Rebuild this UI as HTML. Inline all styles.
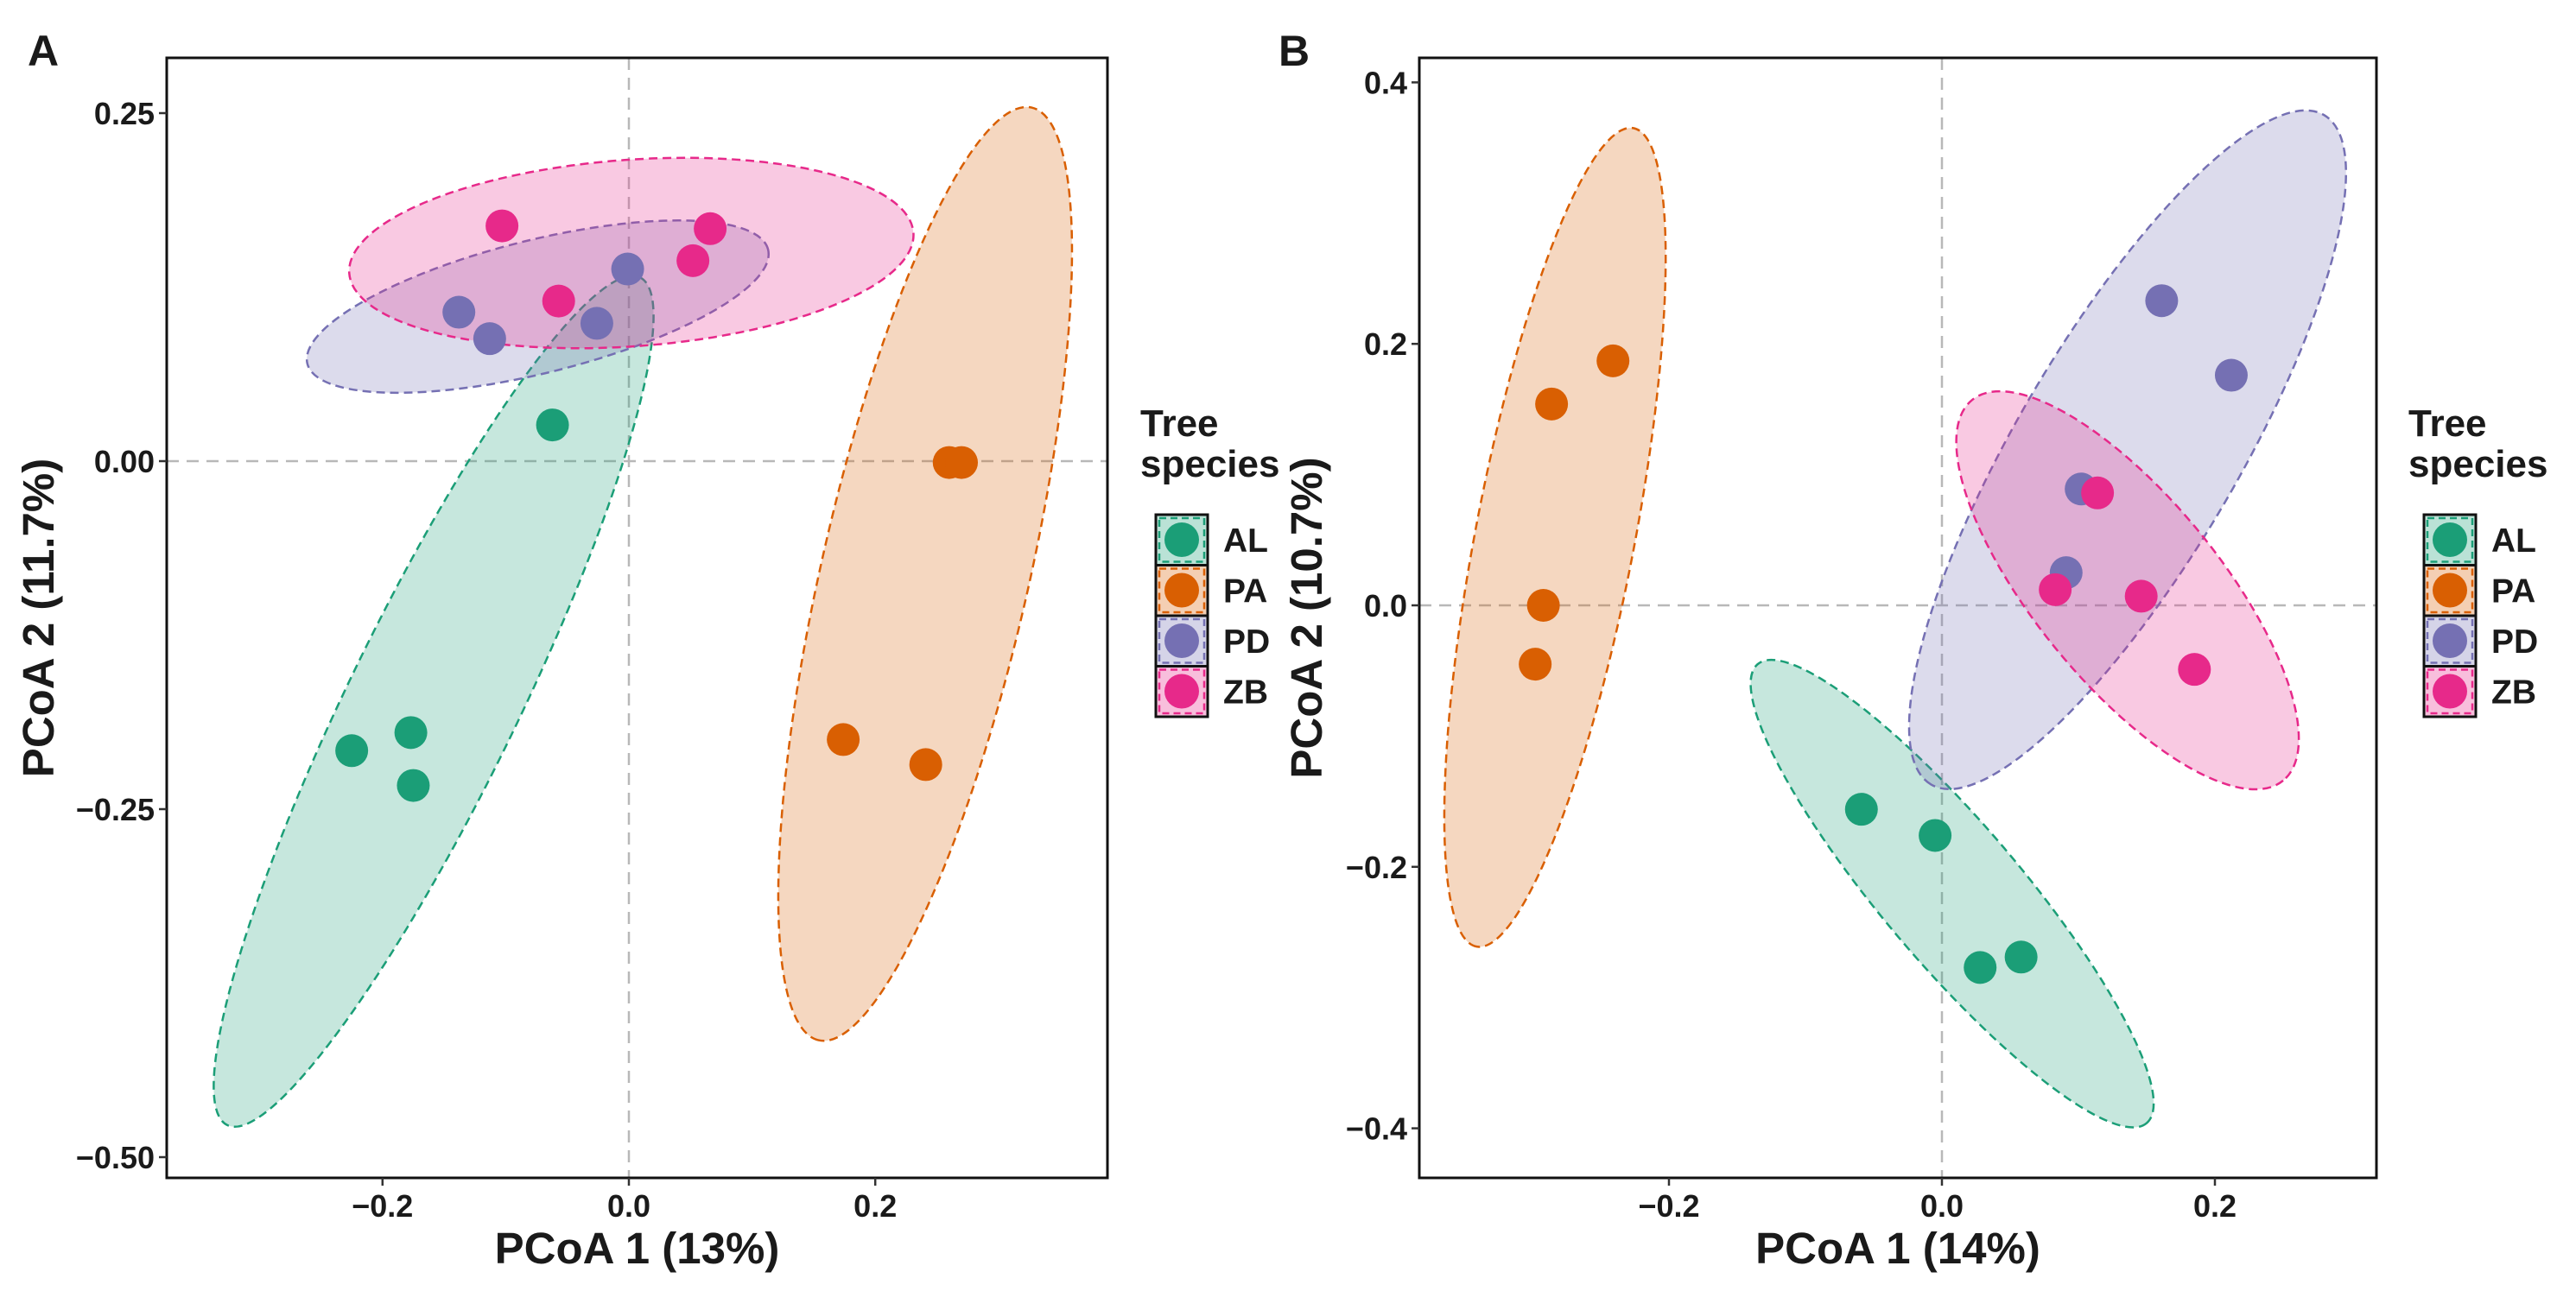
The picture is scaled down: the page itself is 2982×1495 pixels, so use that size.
<!DOCTYPE html>
<html><head><meta charset="utf-8"><style>
html,body{margin:0;padding:0;background:#fff}
svg{display:block}
text{font-family:"Liberation Sans",Arial,sans-serif;font-weight:bold;fill:#1a1a1a}
</style></head><body>
<svg id="chart" width="2982" height="1495" viewBox="0 0 2982 1495" xmlns="http://www.w3.org/2000/svg"></svg>
<script>
const groups = ["AL","PA","PD","ZB"];
const colors = ["#1b9e77","#d95f02","#7570b3","#e7298a"];
// Panel A data
const aTicksX = [-0.2, 0.0, 0.2];
const aTickLabelsX = ["\u22120.2","0.0","0.2"];
const aTicksY = [0.25, 0.0, -0.25, -0.5];
const aTickLabelsY = ["0.25","0.00","\u22120.25","\u22120.50"];
const aX = {AL:[-0.062,-0.225,-0.177,-0.175], PA:[0.26,0.27,0.174,0.241], PD:[-0.138,-0.113,-0.026,-0.001], ZB:[-0.103,0.066,0.052,-0.057]};
const aY = {AL:[0.026,-0.208,-0.195,-0.233], PA:[-0.001,-0.001,-0.2,-0.218], PD:[0.107,0.088,0.099,0.138], ZB:[0.169,0.167,0.144,0.115]};
const aEllTip1 = {AL:[-0.326,-0.477], PA:[0.327,0.254], PD:[-0.261,0.07], ZB:[-0.227,0.135]};
const aEllTip2 = {AL:[0.009,0.132], PA:[0.154,-0.416], PD:[0.113,0.152], ZB:[0.231,0.164]};
const aEllMinor = {AL:98, PA:120, PD:77, ZB:108};
// Panel B data
const bTicksX = [-0.2, 0.0, 0.2];
const bTickLabelsX = ["\u22120.2","0.0","0.2"];
const bTicksY = [0.4, 0.2, 0.0, -0.2, -0.4];
const bTickLabelsY = ["0.4","0.2","0.0","\u22120.2","\u22120.4"];
const bX = {AL:[-0.059,-0.005,0.028,0.058], PA:[-0.241,-0.286,-0.292,-0.298], PD:[0.161,0.212,0.102,0.091], ZB:[0.114,0.083,0.146,0.185]};
const bY = {AL:[-0.156,-0.176,-0.277,-0.269], PA:[0.187,0.154,0.0,-0.045], PD:[0.233,0.176,0.089,0.025], ZB:[0.086,0.012,0.007,-0.049]};
const bEllTip1 = {AL:[-0.135,-0.045], PA:[-0.226,0.365], PD:[0.28,0.375], ZB:[0.022,0.157]};
const bEllTip2 = {AL:[0.15,-0.396], PA:[-0.341,-0.261], PD:[-0.008,-0.137], ZB:[0.25,-0.134]};
const bEllMinor = {AL:80, PA:92, PD:128, ZB:107};

const NS="http://www.w3.org/2000/svg";
const svg=document.getElementById('chart');
function mk(tag,attrs,parent){const e=document.createElementNS(NS,tag);for(const k in attrs)e.setAttribute(k,attrs[k]);(parent||svg).appendChild(e);return e;}

function panel(p){
  const g=mk('g',{});
  
  
  const sx=v=>p.x0+v*p.kx, sy=v=>p.y0-v*p.ky;
  const zx=mk('line',{x1:sx(0),x2:sx(0),y1:p.top,y2:p.bottom,stroke:'#b8b8b8','stroke-width':2.5,'stroke-dasharray':'14 9'},g);
  
  
  const zy=mk('line',{x1:p.left,x2:p.right,y1:sy(0),y2:sy(0),stroke:'#b8b8b8','stroke-width':2.5,'stroke-dasharray':'14 9'},g);
  
  
  groups.forEach((gr,i)=>{
    const t1=p.t1[gr],t2=p.t2[gr];
    const x1=sx(t1[0]),y1=sy(t1[1]),x2=sx(t2[0]),y2=sy(t2[1]);
    const cx=(x1+x2)/2,cy=(y1+y2)/2,rx=Math.hypot(x2-x1,y2-y1)/2;
    const ang=Math.atan2(y2-y1,x2-x1)*180/Math.PI;
    const e=mk('ellipse',{cx:cx,cy:cy,rx:rx,ry:p.minor[gr],transform:`rotate(${ang} ${cx} ${cy})`,fill:colors[i],'fill-opacity':0.25,stroke:colors[i],'stroke-width':2.5,'stroke-dasharray':'10 6'},g);
    
    
  });
  groups.forEach((gr,i)=>{
    p.xs[gr].forEach((v,j)=>{
      const c=mk('circle',{cx:sx(v),cy:sy(p.ys[gr][j]),r:19,fill:colors[i]},g);
      
      
    });
  });
  const fr=mk('rect',{x:p.left,y:p.top,width:p.right-p.left,height:p.bottom-p.top,fill:'none',stroke:'#111','stroke-width':3},g);
  
  
  p.tx.forEach((v,j)=>{
    mk('line',{x1:sx(v),x2:sx(v),y1:p.bottom,y2:p.bottom+9,stroke:'#333','stroke-width':2.5},g);
    const t=mk('text',{x:sx(v),y:p.bottom+45,'text-anchor':'middle','font-size':36},g);
    t.textContent=p.txl[j];
    
    
  });
  p.ty.forEach((v,j)=>{
    mk('line',{x1:p.left-9,x2:p.left,y1:sy(v),y2:sy(v),stroke:'#333','stroke-width':2.5},g);
    const t=mk('text',{x:p.left-14,y:sy(v)+13,'text-anchor':'end','font-size':36},g);
    t.textContent=p.tyl[j];
    
    
  });
  const xt=mk('text',{x:(p.left+p.right)/2,y:1463,'text-anchor':'middle','font-size':51},g);
  xt.textContent=p.xtitle;
  
  
  const yc=(p.top+p.bottom)/2;
  const yt=mk('text',{x:p.ytx,y:yc,'text-anchor':'middle','font-size':51,transform:`rotate(-90 ${p.ytx} ${yc})`},g);
  yt.textContent=p.ytitle;
  
  
  const lt=mk('text',{x:p.letterX,y:76,'font-size':50},g);
  lt.textContent=p.id;
  
  
  const lg=mk('g',{},g);
  
  
  const t1=mk('text',{x:p.legX-18,y:505,'font-size':44},lg);t1.textContent='Tree';
  
  
  const t2=mk('text',{x:p.legX-18,y:552,'font-size':44},lg);t2.textContent='species';
  
  
  groups.forEach((gr,i)=>{
    const y=596+i*58.5;
    const e=mk('g',{},lg);
    
    
    mk('rect',{x:p.legX,y:y,width:60,height:58.5,fill:colors[i],'fill-opacity':0.3,stroke:'#111','stroke-width':3},e);
    mk('rect',{x:p.legX+4,y:y+4,width:52,height:50.5,fill:'none',stroke:colors[i],'stroke-width':2.5,'stroke-dasharray':'8 5'},e);
    mk('circle',{cx:p.legX+30,cy:y+29,r:20,fill:colors[i]},e);
    const t=mk('text',{x:p.legX+78,y:y+43,'font-size':39},e);t.textContent=gr;
  });
}
panel({id:'A',left:193,right:1282,top:67,bottom:1364,x0:728,kx:1426,y0:534,ky:1612,
  tx:aTicksX,txl:aTickLabelsX,ty:aTicksY,tyl:aTickLabelsY,xs:aX,ys:aY,t1:aEllTip1,t2:aEllTip2,minor:aEllMinor,
  xtitle:'PCoA 1 (13%)',ytitle:'PCoA 2 (11.7%)',ytx:62,letterX:32,legX:1338});
panel({id:'B',left:1643,right:2751,top:67,bottom:1364,x0:2248,kx:1580,y0:701,ky:1514,
  tx:bTicksX,txl:bTickLabelsX,ty:bTicksY,tyl:bTickLabelsY,xs:bX,ys:bY,t1:bEllTip1,t2:bEllTip2,minor:bEllMinor,
  xtitle:'PCoA 1 (14%)',ytitle:'PCoA 2 (10.7%)',ytx:1530,letterX:1480,legX:2806});
</script>
</body></html>
